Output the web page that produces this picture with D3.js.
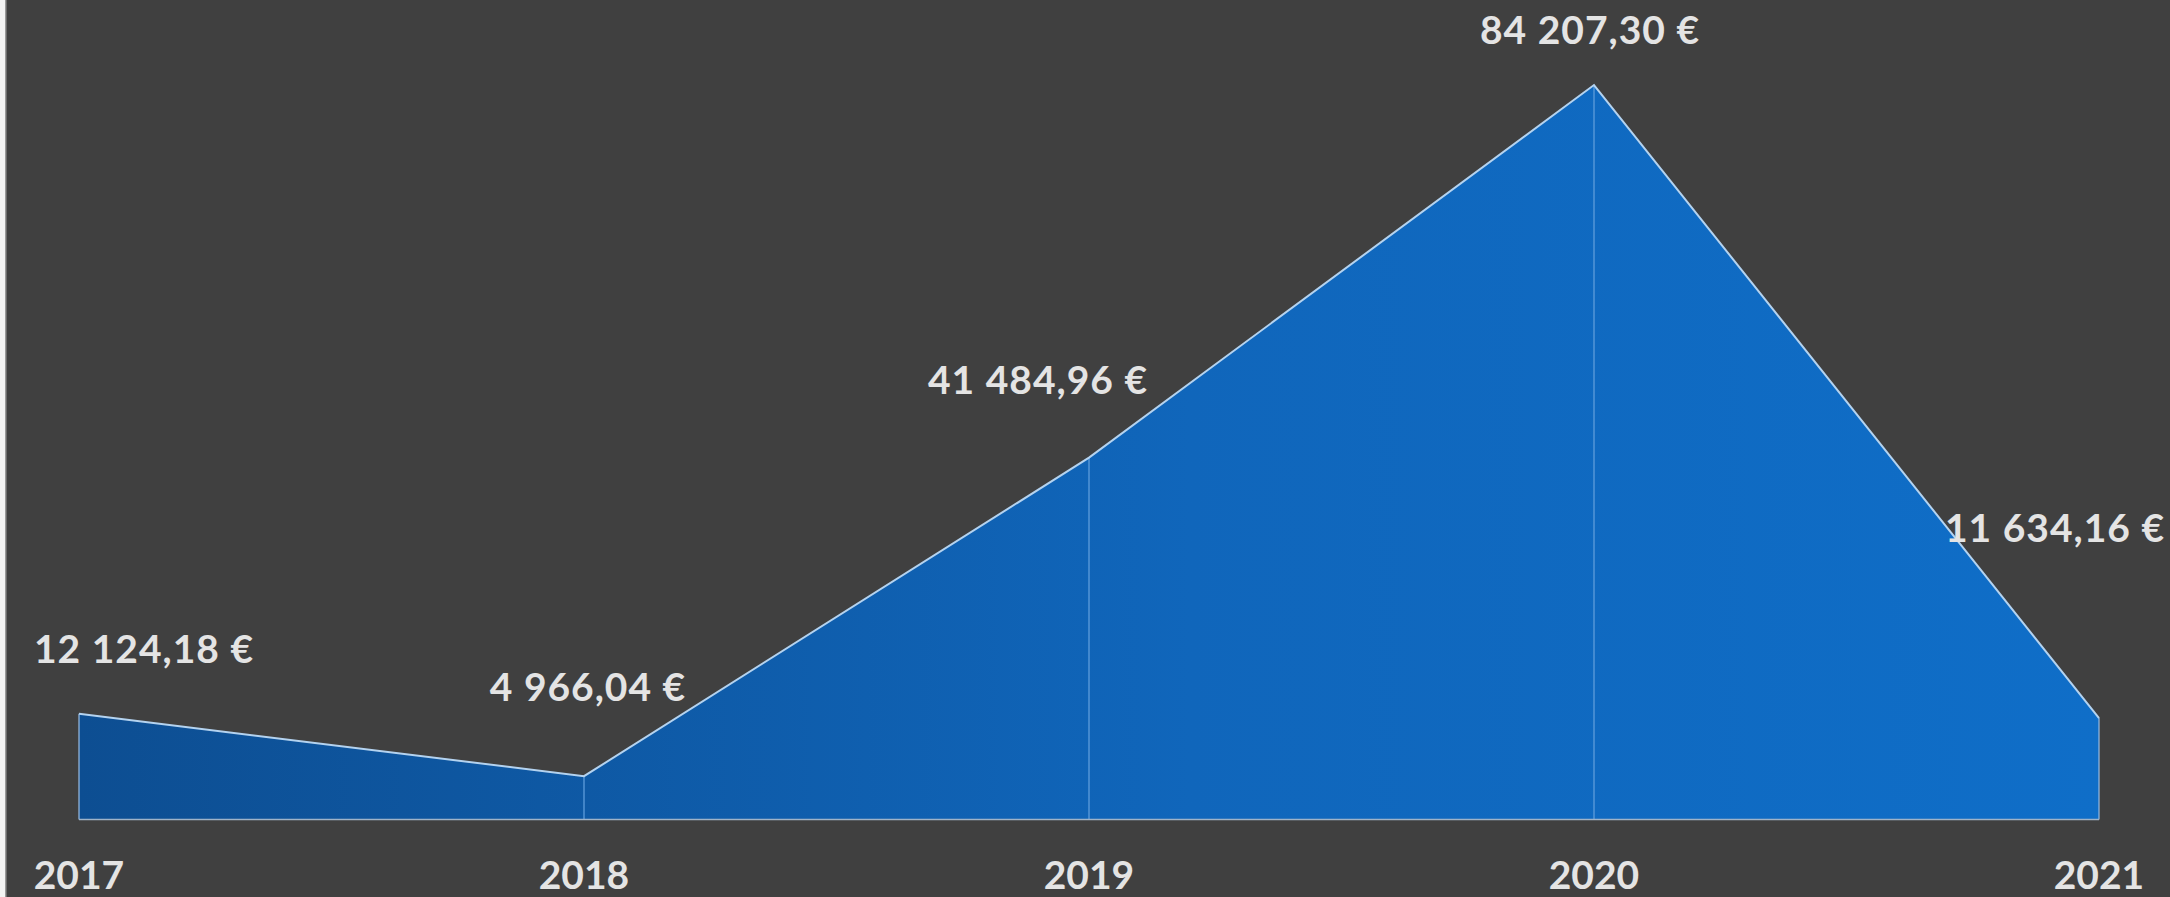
<!DOCTYPE html>
<html lang="fr">
<head>
<meta charset="UTF-8">
<title></title>
<script src="https://d3js.org/d3.v7.min.js"></script>
<style>
    body {
        margin: 0;
        background-color: #404040;
        overflow: hidden;
    }
    .lbl {
        font-family: Lato, "Open Sans", sans-serif;
        font-weight: bold;
        font-size: 39px;
        fill: #e4e4e4;
    }
    .val {
        letter-spacing: 1px;
    }
</style>
</head>
<body>
<svg id="chart" width="2170" height="897"></svg>
<script>
    // data
    const years = ["2017", "2018", "2019", "2020", "2021"];
    const amounts = [12124.18, 4966.04, 41484.96, 84207.30, 11634.16];
    const amountLabels = ["12 124,18 €", "4 966,04 €", "41 484,96 €", "84 207,30 €", "11 634,16 €"];
    // where each value label sits relative to its point (hand placed in the original)
    const labelShift = [[65, -51], [4, -75], [-51, -64], [-4, -41], [-44, -176]];

    const svg = d3.select("#chart");
    const width = +svg.attr("width");
    const height = +svg.attr("height");

    // white strip + grey border on the left edge
    svg.append("rect").attr("x", 0).attr("y", 0).attr("width", 5).attr("height", height).style("fill", "#f4f4f4");
    svg.append("rect").attr("x", 5).attr("y", 0).attr("width", 1.5).attr("height", height).style("fill", "#9a9a9a");

    const x = d3.scalePoint().domain(years).range([79, 2099]);
    const y = d3.scaleLinear().domain([0, 90000]).range([819.5, 34.5]);

    const defs = svg.append("defs");
    const grad = defs.append("linearGradient")
        .attr("id", "fillGrad")
        .attr("gradientUnits", "userSpaceOnUse")
        .attr("x1", x("2017")).attr("x2", x("2021"))
        .attr("y1", 0).attr("y2", 0);
    grad.append("stop").attr("offset", "0%").attr("stop-color", "#0d4e92");
    grad.append("stop").attr("offset", "55%").attr("stop-color", "#1066bb");
    grad.append("stop").attr("offset", "100%").attr("stop-color", "#0f6ec8");

    const pts = years.map((yr, i) => ({ year: yr, value: amounts[i], label: amountLabels[i], shift: labelShift[i] }));

    const area = d3.area()
        .x(d => x(d.year))
        .y0(y(0))
        .y1(d => y(d.value));

    svg.append("path")
        .datum(pts)
        .attr("d", area)
        .style("fill", "url(#fillGrad)");

    // drop lines
    svg.selectAll(".drop")
        .data(pts.slice(1, -1))
        .join("line")
        .attr("class", "drop")
        .attr("x1", d => x(d.year)).attr("x2", d => x(d.year))
        .attr("y1", d => y(d.value)).attr("y2", y(0))
        .style("stroke", "#5f9ddb")
        .style("stroke-width", 1.3);

    // edges of the area
    svg.append("line")
        .attr("x1", x("2017")).attr("x2", x("2017"))
        .attr("y1", y(amounts[0])).attr("y2", y(0))
        .style("stroke", "#8fb4dc").style("stroke-width", 1.3);
    svg.append("line")
        .attr("x1", x("2021")).attr("x2", x("2021"))
        .attr("y1", y(amounts[4])).attr("y2", y(0))
        .style("stroke", "#8fb4dc").style("stroke-width", 1.3);
    svg.append("line")
        .attr("x1", x("2017")).attr("x2", x("2021"))
        .attr("y1", y(0)).attr("y2", y(0))
        .style("stroke", "#9fb3c8").style("stroke-width", 1.5);

    const line = d3.line()
        .x(d => x(d.year))
        .y(d => y(d.value));

    svg.append("path")
        .datum(pts)
        .attr("d", line)
        .style("fill", "none")
        .style("stroke", "#b4d3f0")
        .style("stroke-width", 2);

    // value labels
    svg.selectAll(".val")
        .data(pts)
        .join("text")
        .attr("class", "lbl val")
        .attr("text-anchor", "middle")
        .attr("x", d => x(d.year) + d.shift[0])
        .attr("y", d => y(d.value) + d.shift[1])
        .text(d => d.label);

    // category labels
    svg.selectAll(".cat")
        .data(years)
        .join("text")
        .attr("class", "lbl cat")
        .attr("text-anchor", "middle")
        .attr("x", d => x(d))
        .attr("y", 889)
        .text(d => d);
</script>
</body>
</html>
